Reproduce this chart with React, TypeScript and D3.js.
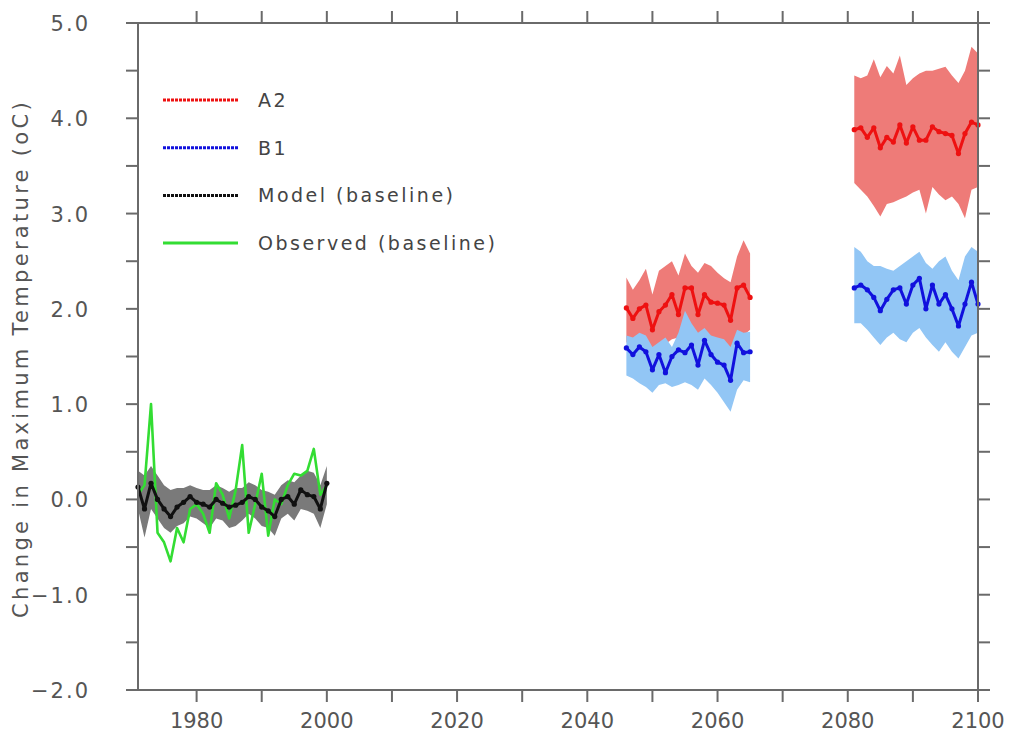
import * as d3 from "d3";
import React from "react";

// year spans of each period
const baseYears = d3.range(1971, 2001);
const midYears = d3.range(2046, 2066);
const endYears = d3.range(2081, 2101);

// observed baseline (green)
const observed = [0.05, 0.15, 1.0, -0.35, -0.45, -0.65, -0.3, -0.45, -0.1, -0.05,
  -0.15, -0.35, 0.17, 0.05, -0.2, 0.1, 0.57, -0.35, -0.05, 0.27,
  -0.38, 0.0, -0.05, 0.15, 0.27, 0.25, 0.3, 0.53, 0.05, 0.15];

// model baseline ensemble mean and spread
const modelMean = [0.13, -0.1, 0.17, 0.0, -0.1, -0.18, -0.08, -0.03, 0.03, -0.03,
  -0.05, -0.08, 0.0, -0.04, -0.08, -0.06, -0.03, 0.03, 0.0, -0.08,
  -0.12, -0.18, 0.0, 0.03, -0.05, 0.1, 0.05, 0.03, -0.1, 0.17];
const modelHi = [0.3, 0.25, 0.35, 0.25, 0.15, 0.1, 0.12, 0.12, 0.15, 0.12,
  0.1, 0.1, 0.15, 0.12, 0.08, 0.12, 0.12, 0.18, 0.15, 0.1,
  0.08, 0.05, 0.15, 0.2, 0.18, 0.25, 0.3, 0.28, 0.15, 0.35];
const modelLo = [-0.1, -0.4, -0.1, -0.2, -0.3, -0.35, -0.28, -0.25, -0.18, -0.2,
  -0.25, -0.3, -0.2, -0.22, -0.3, -0.28, -0.22, -0.15, -0.2, -0.28,
  -0.3, -0.38, -0.2, -0.15, -0.22, -0.1, -0.12, -0.15, -0.3, -0.05];

// A2 2046-2065
const a2MidMean = [2.01, 1.9, 2.0, 2.04, 1.78, 1.97, 2.04, 2.15, 1.94, 2.22,
  2.22, 1.94, 2.15, 2.07, 2.06, 2.04, 1.88, 2.22, 2.25, 2.12];
const a2MidHi = [2.33, 2.2, 2.3, 2.42, 2.15, 2.4, 2.45, 2.5, 2.35, 2.58,
  2.45, 2.38, 2.48, 2.45, 2.38, 2.32, 2.28, 2.55, 2.72, 2.58];
const a2MidLo = [1.65, 1.62, 1.63, 1.6, 1.52, 1.6, 1.63, 1.68, 1.7, 1.72,
  1.7, 1.68, 1.7, 1.66, 1.6, 1.55, 1.52, 1.65, 1.72, 1.78];

// B1 2046-2065
const b1MidMean = [1.59, 1.52, 1.6, 1.55, 1.36, 1.52, 1.33, 1.5, 1.57, 1.54,
  1.62, 1.41, 1.67, 1.52, 1.44, 1.41, 1.25, 1.64, 1.54, 1.55];
const b1MidHi = [1.72, 1.7, 1.75, 1.72, 1.6, 1.65, 1.7, 1.6, 1.75, 1.98,
  1.85, 1.75, 1.8, 1.72, 1.7, 1.68, 1.6, 1.78, 1.75, 1.76];
const b1MidLo = [1.3, 1.27, 1.22, 1.18, 1.12, 1.2, 1.22, 1.18, 1.2, 1.23,
  1.2, 1.15, 1.27, 1.2, 1.12, 1.02, 0.92, 1.15, 1.25, 1.23];

// A2 2081-2100
const a2EndMean = [3.88, 3.9, 3.8, 3.9, 3.69, 3.8, 3.75, 3.93, 3.74, 3.91,
  3.77, 3.77, 3.91, 3.86, 3.84, 3.82, 3.63, 3.84, 3.96, 3.93];
const a2EndHi = [4.45, 4.42, 4.45, 4.62, 4.43, 4.55, 4.47, 4.66, 4.35, 4.42,
  4.47, 4.5, 4.5, 4.52, 4.54, 4.45, 4.37, 4.5, 4.75, 4.68];
const a2EndLo = [3.32, 3.25, 3.18, 3.08, 2.97, 3.1, 3.12, 3.15, 3.18, 3.22,
  3.25, 3.0, 3.28, 3.2, 3.14, 3.18, 3.1, 2.95, 3.25, 3.28];

// B1 2081-2100
const b1EndMean = [2.22, 2.25, 2.2, 2.12, 1.98, 2.1, 2.2, 2.22, 2.05, 2.25,
  2.32, 2.0, 2.25, 2.05, 2.15, 2.0, 1.82, 2.05, 2.28, 2.05];
const b1EndHi = [2.65, 2.6, 2.5, 2.45, 2.45, 2.42, 2.4, 2.45, 2.5, 2.55,
  2.6, 2.48, 2.42, 2.5, 2.55, 2.4, 2.3, 2.55, 2.65, 2.6];
const b1EndLo = [1.85, 1.85, 1.78, 1.7, 1.62, 1.7, 1.75, 1.68, 1.65, 1.75,
  1.8, 1.7, 1.62, 1.55, 1.65, 1.55, 1.48, 1.6, 1.72, 1.75];

const legendItems = ["A2", "B1", "Model (baseline)", "Observed (baseline)"];
const legendColors = ["#ee1111", "#1111dd", "#111111", "#33dd33"];

const W = 1015, H = 746;
const left = 138, right = 978, top = 23, bottom = 690;
const axisColor = "#6a6a6a";
const textColor = "#555";
const font = "DejaVu Sans";

export default function App() {
  const x = d3.scaleLinear().domain([1971, 2100]).range([left, right]);
  const y = d3.scaleLinear().domain([-2, 5]).range([bottom, top]);

  const line = (yrs: number[], vals: number[]) =>
    d3.line<number>().x((_, i) => x(yrs[i])).y((d) => y(d))(vals) || "";
  const band = (yrs: number[], lo: number[], hi: number[]) =>
    d3.area<number>().x((_, i) => x(yrs[i])).y0((_, i) => y(lo[i])).y1((_, i) => y(hi[i]))(lo) || "";

  const xTicks = d3.range(1980, 2101, 10);
  const yTicks = d3.range(-2, 5.01, 0.5);
  const yLabels = y.ticks(7);

  const dots = (yrs: number[], vals: number[], color: string) =>
    vals.map((v, i) => <circle key={i} cx={x(yrs[i])} cy={y(v)} r={2.6} fill={color} />);

  return (
    <svg width={W} height={H} style={{ position: "absolute", left: 0, top: 0, background: "#fff" }}>
      {/* shaded ranges */}
      <path d={band(baseYears, modelLo, modelHi)} fill="#7a7a7a" />
      <path d={band(midYears, a2MidLo, a2MidHi)} fill="#ee7b78" />
      <path d={band(midYears, b1MidLo, b1MidHi)} fill="#92c6f5" />
      <path d={band(endYears, a2EndLo, a2EndHi)} fill="#ee7b78" />
      <path d={band(endYears, b1EndLo, b1EndHi)} fill="#92c6f5" />

      {/* lines */}
      <path d={line(baseYears, observed)} fill="none" stroke="#33dd33" strokeWidth={2.6} strokeLinejoin="round" />
      <path d={line(baseYears, modelMean)} fill="none" stroke="#111" strokeWidth={3} strokeLinejoin="round" />
      {dots(baseYears, modelMean, "#111")}
      <path d={line(midYears, a2MidMean)} fill="none" stroke="#ee1111" strokeWidth={3} strokeLinejoin="round" />
      {dots(midYears, a2MidMean, "#ee1111")}
      <path d={line(midYears, b1MidMean)} fill="none" stroke="#1111dd" strokeWidth={3} strokeLinejoin="round" />
      {dots(midYears, b1MidMean, "#1111dd")}
      <path d={line(endYears, a2EndMean)} fill="none" stroke="#ee1111" strokeWidth={3} strokeLinejoin="round" />
      {dots(endYears, a2EndMean, "#ee1111")}
      <path d={line(endYears, b1EndMean)} fill="none" stroke="#1111dd" strokeWidth={3} strokeLinejoin="round" />
      {dots(endYears, b1EndMean, "#1111dd")}

      {/* frame */}
      <rect x={left} y={top} width={right - left} height={bottom - top} fill="none" stroke={axisColor} strokeWidth={2} />

      {/* x ticks top & bottom */}
      {xTicks.map((t) => (
        <g key={"x" + t}>
          <line x1={x(t)} x2={x(t)} y1={top} y2={top - 12} stroke={axisColor} strokeWidth={2} />
          <line x1={x(t)} x2={x(t)} y1={bottom} y2={bottom + 12} stroke={axisColor} strokeWidth={2} />
        </g>
      ))}
      {xTicks.filter((t) => t % 20 === 0).map((t) => (
        <text key={"xl" + t} x={x(t)} y={bottom + 38} textAnchor="middle" fontFamily={font}
          fontSize={21} fill={textColor}>{t}</text>
      ))}

      {/* y ticks left & right */}
      {yTicks.map((t) => (
        <g key={"y" + t}>
          <line x1={left} x2={left - 12} y1={y(t)} y2={y(t)} stroke={axisColor} strokeWidth={2} />
          <line x1={right} x2={right + 12} y1={y(t)} y2={y(t)} stroke={axisColor} strokeWidth={2} />
        </g>
      ))}
      {yLabels.map((t) => (
        <text key={"yl" + t} x={left - 48} y={y(t) + 8} textAnchor="end" fontFamily={font}
          fontSize={21} letterSpacing={2} fill={textColor}>{t < 0 ? "\u2212" + Math.abs(t).toFixed(1) : t.toFixed(1)}</text>
      ))}

      <text transform={`translate(28,${(top + bottom) / 2 + 2}) rotate(-90)`} textAnchor="middle"
        fontFamily={font} fontSize={21} letterSpacing={3.3} fill={textColor}>
        Change in Maximum Temperature (oC)
      </text>

      {/* legend */}
      {legendItems.map((name, i) => {
        const ly = 100 + i * 47.7;
        return (
          <g key={name}>
            <line x1={163} x2={238} y1={ly} y2={ly} stroke={legendColors[i]} strokeWidth={3}
              strokeDasharray={i < 3 ? "3 1" : undefined} />
            <text x={258} y={ly + 7} fontFamily={font} fontSize={19} letterSpacing={2.5} fill="#444">{name}</text>
          </g>
        );
      })}
    </svg>
  );
}
